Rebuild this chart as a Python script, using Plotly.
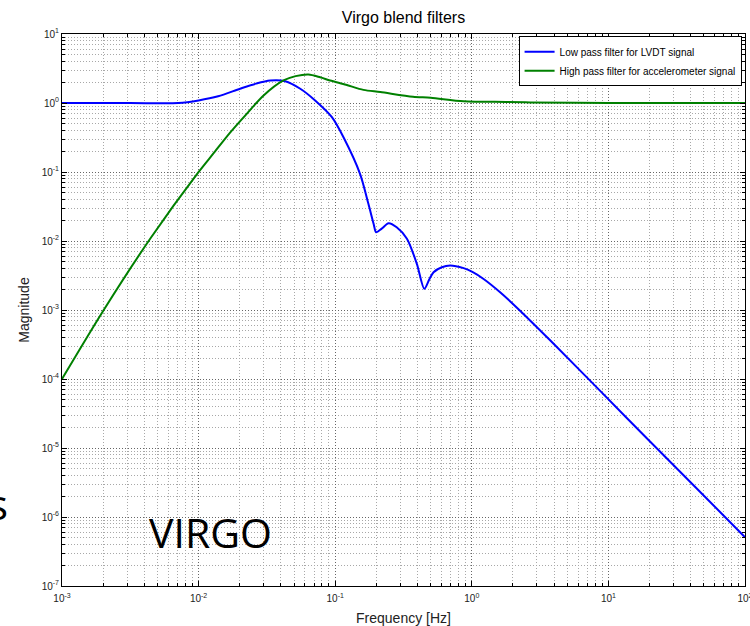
import plotly.graph_objects as go

# Frequencies [Hz] and magnitudes (log-log plot)
lp_freq = [0.001, 0.00316, 0.0071, 0.01, 0.0139, 0.0201, 0.0263, 0.0334,
           0.0431, 0.0555, 0.0713, 0.0946, 0.115, 0.152, 0.175, 0.191, 0.1995,
           0.219, 0.246, 0.282, 0.335, 0.396, 0.449, 0.49, 0.525, 0.603, 0.695,
           0.871, 1.01, 1.22, 1.62, 2.14, 3.76, 9.0, 20.0, 44.7, 100.0]
lp_mag = [1.0, 1.0, 1.0, 1.09, 1.25, 1.61, 1.91, 2.12,
          2.07, 1.61, 1.09, 0.624, 0.319, 0.0942, 0.0346, 0.0178, 0.0134,
          0.0151, 0.0181, 0.0158, 0.0108, 0.00467, 0.00203, 0.00282, 0.00353, 0.00417, 0.00442,
          0.00404, 0.00356, 0.00281, 0.00179, 0.00108, 0.000361, 6.3e-05, 1.26e-05, 2.55e-06, 5.1e-07]

hp_freq = [0.001, 0.00201, 0.00442, 0.00998, 0.0128, 0.017, 0.0225, 0.0299,
           0.0418, 0.0513, 0.0637, 0.0776, 0.0918, 0.12, 0.161, 0.214, 0.371,
           0.5, 0.871, 1.78, 2.69, 10.0, 100.0]
hp_mag = [0.0001, 0.000984, 0.01076, 0.0993, 0.184, 0.372, 0.697, 1.285,
          2.12, 2.45, 2.59, 2.36, 2.12, 1.84, 1.55, 1.44, 1.23,
          1.19, 1.06, 1.035, 1.02, 1.0, 1.0]

x_tickvals = [0.001, 0.01, 0.1, 1, 10, 100]
x_ticktext = ["10<sup>-3</sup>", "10<sup>-2</sup>", "10<sup>-1</sup>",
              "10<sup>0</sup>", "10<sup>1</sup>", "10<sup>2</sup>"]
y_tickvals = [1e-7, 1e-6, 1e-5, 1e-4, 1e-3, 1e-2, 1e-1, 1, 10]
y_ticktext = ["10<sup>-7</sup>", "10<sup>-6</sup>", "10<sup>-5</sup>", "10<sup>-4</sup>",
              "10<sup>-3</sup>", "10<sup>-2</sup>", "10<sup>-1</sup>",
              "10<sup>0</sup>", "10<sup>1</sup>"]

fig = go.Figure()

fig.add_trace(go.Scatter(
    x=lp_freq, y=lp_mag, mode="lines", name="Low pass filter for LVDT signal",
    line=dict(color="rgb(0,0,255)", width=2, shape="spline", smoothing=0.8)
))
fig.add_trace(go.Scatter(
    x=hp_freq, y=hp_mag, mode="lines", name="High pass filter for accelerometer signal",
    line=dict(color="rgb(0,128,0)", width=2, shape="spline", smoothing=0.8)
))

# MATLAB-like axes: dotted grid, inside ticks, full box
axis_common = dict(
    type="log", automargin=False, ticklabeloverflow="allow",
    showline=True, linecolor="black", linewidth=1, mirror="allticks",
    ticks="inside", ticklen=5, tickcolor="black",
    showgrid=True, gridcolor="#666666", griddash="1px,2px", gridwidth=1,
    zeroline=False,
    tickfont=dict(family="Liberation Sans, Arial", size=10, color="#222"),
    minor=dict(dtick="D1", showgrid=True, gridcolor="#a8a8a8", griddash="1px,2px",
               ticks="inside", ticklen=3, tickcolor="black"),
)

fig.update_xaxes(
    **axis_common, range=[-3, 2], tickmode="array",
    tickvals=x_tickvals, ticktext=x_ticktext, ticklabelstandoff=3,
    title=dict(text="Frequency [Hz]", font=dict(family="Liberation Sans, Arial", size=14, color="#222"),
               standoff=12),
)
fig.update_yaxes(
    **axis_common, range=[-7, 1], tickmode="array",
    tickvals=y_tickvals, ticktext=y_ticktext,
    title=dict(text="Magnitude", font=dict(family="Liberation Sans, Arial", size=14, color="#222"),
               standoff=8),
)

fig.update_layout(
    width=750, height=626,
    margin=dict(l=62, r=5, t=34, b=40),
    paper_bgcolor="white", plot_bgcolor="white",
    title=dict(text="Virgo blend filters", xref="paper", x=0.5, xanchor="center",
               y=0.972, yanchor="middle", automargin=False,
               font=dict(family="Liberation Sans, Arial", size=16, color="black")),
    legend=dict(x=0.995, y=0.996, xanchor="right", yanchor="top",
                bgcolor="white", bordercolor="black", borderwidth=1,
                font=dict(family="Liberation Sans, Arial", size=10, color="black"),
                tracegroupgap=0, itemwidth=30),
    showlegend=True,
    annotations=[
        dict(text="VIRGO", xref="paper", yref="paper", x=0.2174, y=0.0985,
             xanchor="center", yanchor="middle", showarrow=False,
             font=dict(family="Open Sans, Noto Sans", size=41, color="black")),
        dict(text="s", xref="paper", yref="paper", x=-0.076, y=0.15,
             xanchor="right", yanchor="middle", showarrow=False,
             font=dict(family="Open Sans, Noto Sans", size=42, color="black")),
    ],
)

# drop the default page margin so the figure sits at the window's corner
fig.write_html("out.html", config={"displayModeBar": False},
               post_script="document.body.style.margin = '0';")
